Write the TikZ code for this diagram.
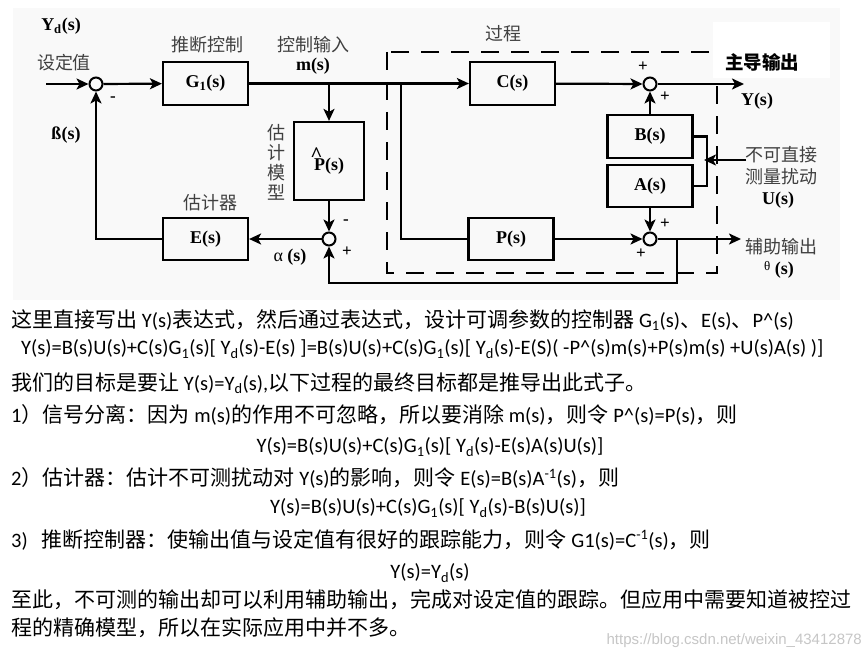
\documentclass[tikz,border=0pt]{standalone}
\usepackage{fontspec}
\setmainfont{Noto Sans CJK SC}
\newfontfamily\latf[Scale=0.976]{Carlito}
\newfontfamily\tnr{Liberation Serif}
\newfontfamily\cjkd{Noto Sans CJK SC}
\newfontfamily\wmf{Liberation Sans}
\usetikzlibrary{arrows.meta,calc}
\newcommand\lt[1]{{\latf #1}}
\tikzset{
  blk/.style={draw, line width=2.2pt, minimum width=85pt, minimum height=43pt, inner sep=0pt,
    font=\tnr\bfseries\fontsize{18}{20}\selectfont},
  sumnode/.style={draw, circle, line width=2pt, minimum size=13pt, inner sep=0pt},
  ln/.style={line width=2.2pt},
  arr/.style={line width=2.2pt, -{Stealth[length=12pt,width=11pt,inset=3pt]}},
  cn/.style={font=\cjkd\fontsize{18}{21}\selectfont, text=black!75, inner sep=0pt},
  ml/.style={font=\tnr\bfseries\fontsize{18}{20}\selectfont, inner sep=0pt},
  sg/.style={font=\tnr\bfseries\fontsize{17}{17}\selectfont, inner sep=0pt},
  body/.style={anchor=west, inner sep=0pt, font=\fontsize{21}{24}\selectfont},
  bodyc/.style={inner sep=0pt, font=\fontsize{21}{24}\selectfont}
}
\begin{document}
\begin{tikzpicture}[x=1pt,y=-1pt]
\useasboundingbox (0,0) rectangle (863,661);
\fill[white] (0,0) rectangle (863,661);
\fill[gray!5] (13,8) rectangle (840,300);

% dashed process box
\draw[line width=2.2pt, dash pattern=on 18pt off 12pt] (387,52) rectangle (717,273);
\fill[white] (713,22) rectangle (830,78);

% blocks
\node[blk] (G1) at (205.5,83.5) {G\textsubscript{1}(s)};
\node[blk] (C) at (512.5,83.5) {C(s)};
\node[blk, minimum width=70pt, minimum height=78pt] (Ph) at (329,161)
  {\makebox[0pt][l]{\raisebox{0.45em}{\kern-0.2em\fontsize{21}{21}\selectfont\^{}}}P(s)};
\node[blk, minimum height=42pt] (E) at (205.5,239) {E(s)};
\node[blk, minimum height=42pt] (P) at (511,239) {P(s)};
\node[blk] (B) at (650,136.5) {B(s)};
\node[blk, minimum height=42pt] (A) at (650,186) {A(s)};

% summing junctions
\node[sumnode] (s1) at (96,84) {};
\node[sumnode] (s2) at (650,84) {};
\node[sumnode] (s3) at (650,239) {};
\node[sumnode] (s4) at (329,239) {};

% coordinates
\coordinate (in) at (46,84);
\coordinate (b1) at (329,84);
\coordinate (b2) at (401,84);
\coordinate (yout) at (744,84);
\coordinate (thout) at (741,239);
\coordinate (b3) at (677,239);
\coordinate (fb) at (677,283);
\coordinate (uin) at (746,160);
\coordinate (uj) at (704,160);

% connectors
\draw[arr] (in) -- (s1);
\draw[arr] (s1) -- (G1);
\draw[arr] (G1) -- (C);
\draw[arr] (b1) -- (Ph);
\draw[arr] (Ph) -- (s4);
\draw[arr] (s4) -- (E);
\draw[arr] (E.west) -| (s1.south);
\draw[ln] (b2) |- (P.west);
\draw[arr] (C) -- (s2);
\draw[arr] (s2) -- (yout);
\draw[arr] (B) -- (s2);
\draw[arr] (A) -- (s3);
\draw[arr] (P) -- (s3);
\draw[arr] (s3) -- (thout);
\draw[arr] (b3) -- (fb) -| (s4.south);
\draw[ln] (B.east) -- ++(13,0) |- (A.east);
\draw[arr] (uin) -- (uj);

% signs
\node[sg] (m1) at (113,99) {-};
\node[sg] (p1) at (643,67) {+};
\node[sg] (p2) at (665,97) {+};
\node[sg] (p3) at (665,224) {+};
\node[sg] (p4) at (641,254) {+};
\node[sg] (m2) at (346,222) {-};
\node[sg] (p5) at (347,252) {+};

% labels
\node[ml] (lyd) at (61,26) {Y\textsubscript{d}(s)};
\node[cn] (lsd) at (64,63) {设定值};
\node[ml] (lbeta) at (66,135) {ß(s)};
\node[cn] (ltd) at (207,45) {推断控制};
\node[cn] (lki) at (313,45) {控制输入};
\node[ml] (lm) at (313,66) {m(s)};
\node[cn, align=center, font=\cjkd\fontsize{18}{20}\selectfont] (lgm) at (276,162) {估\\计\\模\\型};
\node[cn] (lgj) at (210,203) {估计器};
\node[ml] (lal) at (290,257) {{\mdseries α} (s)};
\node[cn] (lgc) at (503,34) {过程};
\node[ml, font=\cjkd\bfseries\fontsize{18.5}{20}\selectfont, text=black] (lzd) at (762,62) {主导输出};
\node[ml] (ly) at (757,101) {Y(s)};
\node[cn] (lu1) at (781,155) {不可直接};
\node[cn] (lu2) at (781,177) {测量扰动};
\node[ml] (lu) at (778,200) {U(s)};
\node[cn] (lfz) at (781,247) {辅助输出};
\node[ml] (lth) at (779,270) {{\mdseries\raisebox{0.2em}{\fontsize{13}{13}\selectfont θ}} (s)};

% body text
\node[body] (t1) at (11,320) {这里直接写出 \lt{Y(s)}表达式，然后通过表达式，设计可调参数的控制器 \lt{G\textsubscript{1}(s)}、\lt{E(s)}、\lt{P\textasciicircum(s)}};
\node[body] (t2) at (21,349) {\lt{Y(s)=B(s)U(s)+C(s)G\textsubscript{1}(s)[ Y\textsubscript{d}(s)-E(s) ]=B(s)U(s)+C(s)G\textsubscript{1}(s)[ Y\textsubscript{d}(s)-E(S)( -P\textasciicircum(s)m(s)+P(s)m(s) +U(s)A(s) )]}};
\node[body] (t3) at (11,383) {我们的目标是要让 \lt{Y(s)=Y\textsubscript{d}(s),}以下过程的最终目标都是推导出此式子。};
\node[body] (t4) at (11,415) {\lt{1}）信号分离：因为 \lt{m(s)}的作用不可忽略，所以要消除 \lt{m(s)}，则令 \lt{P\textasciicircum(s)=P(s)}，则};
\node[bodyc] (t5) at (430,447) {\lt{Y(s)=B(s)U(s)+C(s)G\textsubscript{1}(s)[ Y\textsubscript{d}(s)-E(s)A(s)U(s)]}};
\node[body] (t6) at (11,478) {\lt{2}）估计器：估计不可测扰动对 \lt{Y(s)}的影响，则令 \lt{E(s)=B(s)A\textsuperscript{-1}(s)}，则};
\node[bodyc] (t7) at (428,508) {\lt{Y(s)=B(s)U(s)+C(s)G\textsubscript{1}(s)[ Y\textsubscript{d}(s)-B(s)U(s)]}};
\node[body] (t8) at (11,540) {\lt{3)\ \ \ }推断控制器：使输出值与设定值有很好的跟踪能力，则令 \lt{G1(s)=C\textsuperscript{-1}(s)}，则};
\node[bodyc] (t9) at (430,573) {\lt{Y(s)=Y\textsubscript{d}(s)}};
\node[body] (t10) at (11,600) {至此，不可测的输出却可以利用辅助输出，完成对设定值的跟踪。但应用中需要知道被控过};
\node[body] (t11) at (11,628) {程的精确模型，所以在实际应用中并不多。};
\node[anchor=east, inner sep=0pt, text=gray!45, font=\wmf\fontsize{15}{15}\selectfont] (wm) at (862,641) {https://blog.csdn.net/weixin\_43412878};
\end{tikzpicture}
\end{document}
